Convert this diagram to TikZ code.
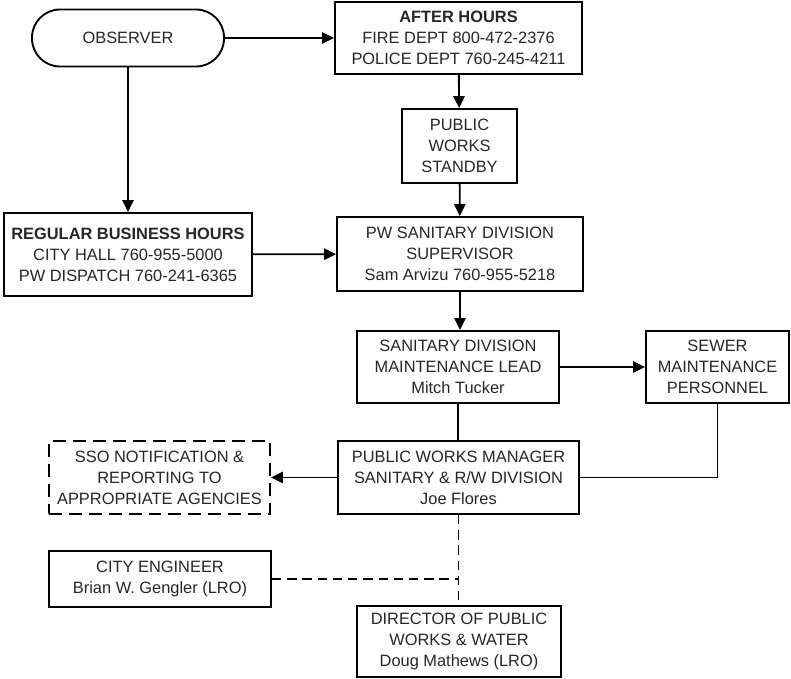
\documentclass[tikz,border=0pt]{standalone}
\usepackage{fontspec}
\setmainfont{Liberation Sans}
\usetikzlibrary{arrows.meta}
\begin{document}
\begin{tikzpicture}[x=0.03cm,y=-0.03cm,
		box/.style={draw,line width=1.6pt,align=center,inner sep=0pt,text=black!85,
			font=\fontsize{14}{17.9}\selectfont},
		link/.style={line width=1.6pt},
		flow/.style={link,-{Triangle[length=3.6mm,width=3.4mm]}}]
		\useasboundingbox (0,0) rectangle (791,679);
		% top row
		\node[box,rounded corners=0.84cm,minimum width=5.76cm,minimum height=1.71cm] (obs) at (128,38) {OBSERVER};
		\node[box,minimum width=7.41cm,minimum height=2.16cm] (after) at (458.5,38) {\textbf{AFTER HOURS}\\FIRE DEPT 800-472-2376\\POLICE DEPT 760-245-4211};
		\node[box,minimum width=3.45cm,minimum height=2.22cm] (standby) at (459.5,146) {PUBLIC\\WORKS\\STANDBY};
		% business hours
		\node[box,minimum width=7.44cm,minimum height=2.49cm] (regular) at (128,254.5) {\textbf{REGULAR BUSINESS HOURS}\\CITY HALL 760-955-5000\\PW DISPATCH 760-241-6365};
		\node[box,minimum width=7.38cm,minimum height=2.22cm] (super) at (460,254) {PW SANITARY DIVISION\\SUPERVISOR\\Sam Arvizu 760-955-5218};
		% maintenance
		\node[box,minimum width=6.06cm,minimum height=2.16cm] (lead) at (458,367) {SANITARY DIVISION\\MAINTENANCE LEAD\\Mitch Tucker};
		\node[box,minimum width=4.29cm,minimum height=2.16cm] (sewer) at (717.5,367) {SEWER\\MAINTENANCE\\PERSONNEL};
		\node[box,minimum width=7.23cm,minimum height=2.19cm] (mgr) at (458.5,477.5) {PUBLIC WORKS MANAGER\\SANITARY \& R/W DIVISION\\Joe Flores};
		\node[box,dashed,dash pattern=on 11pt off 6pt,minimum width=6.63cm,minimum height=2.19cm] (sso) at (159.5,477.5) {SSO NOTIFICATION \&\\REPORTING TO\\APPROPRIATE AGENCIES};
		% LRO
		\node[box,minimum width=6.66cm,minimum height=1.68cm] (eng) at (160,579) {CITY ENGINEER\\Brian W. Gengler (LRO)};
		\node[box,minimum width=6.12cm,minimum height=2.13cm] (dir) at (459,641.5) {DIRECTOR OF PUBLIC\\WORKS \& WATER\\Doug Mathews (LRO)};
		\coordinate (tee) at (eng.east -| mgr.south);
		% connectors
		\draw[flow] (obs) -- (after);
		\draw[flow] (obs) -- (regular);
		\draw[flow] (after) -- (standby);
		\draw[flow] (standby) -- (super);
		\draw[flow] (regular) -- (super);
		\draw[flow] (super.south) -- (super.south |- lead.north);
		\draw[flow] (lead) -- (sewer);
		\draw[link] (lead.south) -- (lead.south |- mgr.north);
		\draw[link] (sewer.south) |- (mgr.east);
		\draw[flow] (mgr) -- (sso);
		\draw[link,dashed,dash pattern=on 8pt off 5pt] (mgr.south) -- (mgr.south |- dir.north);
		\draw[link,dashed,dash pattern=on 8pt off 5pt] (eng) -- (tee);
\end{tikzpicture}
\end{document}
